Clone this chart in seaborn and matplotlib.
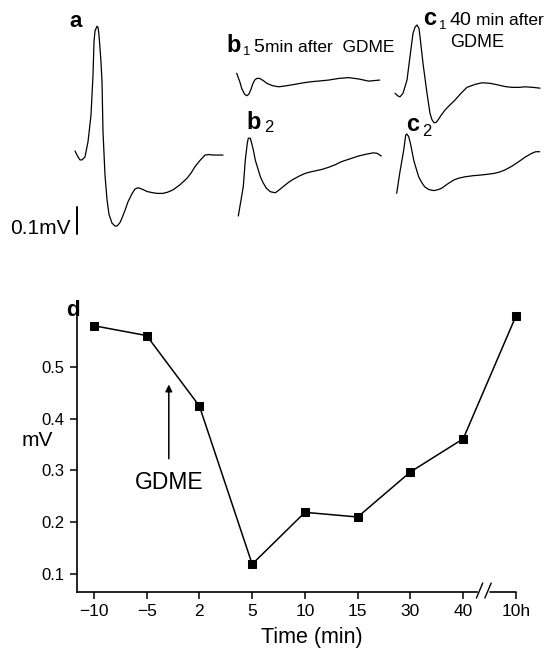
import matplotlib
matplotlib.use("Agg")
import matplotlib.pyplot as plt
import seaborn as sns
import numpy as np

# panel d data
time_labels = ["\u221210", "\u22125", "2", "5", "10", "15", "30", "40", "10h"]
amp_mv = [0.579, 0.560, 0.424, 0.119, 0.219, 0.210, 0.297, 0.361, 0.598]

# traces (t in arbitrary time units, v in mV relative to start)
trace_a_t = [0, 3, 5, 7, 10, 13, 16, 18, 19, 20, 22, 23, 24, 26, 27, 28, 30, 32, 34, 37, 40, 42, 45, 47, 50, 53,
             57, 60, 63, 67, 72, 77, 82, 88, 93, 98, 105, 112, 116, 120, 125, 130, 134, 138, 148]
trace_a_v = [0, -0.022, -0.033, -0.033, -0.022, 0.034, 0.133, 0.281, 0.404, 0.445, 0.462, 0.458, 0.430, 0.330,
             0.257, 0.071, -0.089, -0.180, -0.235, -0.267, -0.278, -0.278, -0.265, -0.248, -0.220, -0.188,
             -0.158, -0.141, -0.136, -0.141, -0.150, -0.154, -0.157, -0.157, -0.152, -0.144, -0.125, -0.101,
             -0.082, -0.058, -0.035, -0.015, -0.013, -0.015, -0.015]

trace_b1_t = [0, 3, 5, 8, 10, 12, 14, 16, 18, 20, 23, 27, 30, 36, 42, 50, 58, 67, 75, 84, 92, 102, 112, 122, 132, 143]
trace_b1_v = [0, -0.030, -0.056, -0.078, -0.083, -0.078, -0.062, -0.040, -0.025, -0.019, -0.019, -0.028, -0.037,
              -0.046, -0.050, -0.046, -0.041, -0.035, -0.031, -0.028, -0.025, -0.019, -0.016, -0.021, -0.029, -0.025]

trace_c1_t = [0, 3, 5, 8, 12, 15, 18, 20, 22, 24, 25, 28, 32, 35, 37, 39, 41, 43, 46, 50, 55, 60, 66, 72, 80, 87,
              95, 103, 110, 117, 124, 130, 138, 145]
trace_c1_v = [0, -0.010, -0.013, 0, 0.049, 0.136, 0.222, 0.245, 0.253, 0.240, 0.210, 0.111, 0, -0.074, -0.098,
              -0.109, -0.108, -0.099, -0.082, -0.062, -0.043, -0.025, 0, 0.022, 0.033, 0.039, 0.037, 0.031,
              0.025, 0.022, 0.022, 0.024, 0.022, 0.019]

trace_b2_t = [0, 5, 7, 9, 10, 12, 13, 15, 17, 20, 22, 25, 28, 32, 37, 41, 45, 50, 55, 61, 67, 72, 78, 84, 90, 97,
              103, 112, 120, 128, 135, 139, 143]
trace_b2_v = [0, 0.109, 0.207, 0.270, 0.288, 0.288, 0.275, 0.245, 0.207, 0.170, 0.146, 0.122, 0.103, 0.090,
              0.086, 0.097, 0.109, 0.124, 0.136, 0.148, 0.158, 0.163, 0.168, 0.173, 0.180, 0.190, 0.201, 0.212,
              0.222, 0.229, 0.234, 0.232, 0.222]

trace_c2_t = [0, 3, 7, 9, 10, 12, 14, 17, 20, 22, 25, 28, 32, 37, 41, 45, 51, 57, 62, 68, 76, 85, 92, 98, 103, 108,
              115, 122, 128, 135, 139, 143]
trace_c2_v = [0, 0.074, 0.160, 0.215, 0.220, 0.210, 0.180, 0.123, 0.085, 0.061, 0.040, 0.024, 0.014, 0.010,
              0.013, 0.019, 0.035, 0.049, 0.056, 0.061, 0.065, 0.068, 0.071, 0.074, 0.079, 0.086, 0.100, 0.117,
              0.133, 0.148, 0.154, 0.154]

sns.set_style("ticks")
plt.rcParams["font.family"] = ["Liberation Sans", "DejaVu Sans"]
plt.rcParams["text.color"] = "black"
plt.rcParams["xtick.color"] = "black"
plt.rcParams["ytick.color"] = "black"
plt.rcParams["axes.labelcolor"] = "black"

W, H = 548, 649
fig = plt.figure(figsize=(W / 100, H / 100), dpi=100)

def fx(x):
    return x / W

def fy(y):
    return 1 - y / H

# ---- top: traces ----
top_h = 250
PX_PER_MV = 270.0
axt = fig.add_axes([0, fy(top_h), 1, top_h / H])
axt.set_xlim(0, W)
axt.set_ylim(-top_h / PX_PER_MV, 0)
axt.axis("off")

traces = [
    (trace_a_t, trace_a_v, 75, 151),
    (trace_b1_t, trace_b1_v, 236.7, 73.3),
    (trace_c1_t, trace_c1_v, 395, 93.3),
    (trace_b2_t, trace_b2_v, 238.3, 216),
    (trace_c2_t, trace_c2_v, 396.7, 193.3),
]
for t, v, x0, y0 in traces:
    xs = np.array(t) + x0
    ys = np.array(v) - y0 / PX_PER_MV
    sns.lineplot(x=xs, y=ys, ax=axt, color="black", lw=0.9, sort=False, estimator=None)

# scale bar 0.1 mV
axt.plot([77, 77], [-234 / PX_PER_MV, -234 / PX_PER_MV + 0.1], color="black", lw=1.4)
fig.text(fx(10), fy(234), "0.1mV", fontsize=15, ha="left", va="baseline")

# panel letters
fig.text(fx(69), fy(27), "a", fontsize=16, fontweight="bold", va="baseline")
fig.text(fx(226), fy(52), "b", fontsize=17, fontweight="bold", va="baseline")
fig.text(fx(243), fy(55), "1", fontsize=9.5, va="baseline")
fig.text(fx(253), fy(52), "5", fontsize=14, va="baseline")
fig.text(fx(265), fy(52), "min after  GDME", fontsize=12.5, va="baseline")
fig.text(fx(423), fy(25), "c", fontsize=17, fontweight="bold", va="baseline")
fig.text(fx(439), fy(29), "1", fontsize=9.5, va="baseline")
fig.text(fx(449), fy(25), "40", fontsize=14, va="baseline")
fig.text(fx(476), fy(25), "min after", fontsize=12.5, va="baseline")
fig.text(fx(450), fy(47), "GDME", fontsize=13, va="baseline")
fig.text(fx(246), fy(129), "b", fontsize=17, fontweight="bold", va="baseline")
fig.text(fx(264), fy(132), "2", fontsize=12, va="baseline")
fig.text(fx(406), fy(131), "c", fontsize=17, fontweight="bold", va="baseline")
fig.text(fx(422), fy(136), "2", fontsize=12, va="baseline")

# ---- bottom: panel d ----
ax_l, ax_r, ax_t, ax_b = 77, 516, 305, 592
ax = fig.add_axes([fx(ax_l), fy(ax_b), (ax_r - ax_l) / W, (ax_b - ax_t) / H])
xpos = np.arange(len(time_labels))
sns.lineplot(x=xpos, y=amp_mv, ax=ax, color="black", lw=1.1, marker="s", markersize=6,
             markeredgecolor="black", markerfacecolor="black", clip_on=False)
ax.set_xlim(-0.32, 8.0)
ax.set_ylim(0.0653, 0.619)
ax.set_xticks(xpos)
ax.set_xticklabels(time_labels, fontsize=12.5)
ax.set_yticks([0.1, 0.2, 0.3, 0.4, 0.5])
ax.set_yticklabels(["0.1", "0.2", "0.3", "0.4", "0.5"], fontsize=12)
ax.tick_params(direction="out", length=5, width=1.1, color="black", pad=4)
for s in ["top", "right"]:
    ax.spines[s].set_visible(False)
for s in ["left", "bottom"]:
    ax.spines[s].set_linewidth(1.2)
    ax.spines[s].set_color("black")
ax.spines["bottom"].set_bounds(-0.32, 7.27)
ybot = 0.0653
ax.plot([7.5, 8.0], [ybot, ybot], color="black", lw=1.2, clip_on=False)
ax.plot([7.25, 7.37], [0.0537, 0.0826], color="black", lw=1.0, clip_on=False)
ax.plot([7.41, 7.53], [0.0537, 0.0826], color="black", lw=1.0, clip_on=False)
ax.set_xlabel("")
ax.set_ylabel("")

ax.annotate("", xy=(1.42, 0.471), xytext=(1.42, 0.317),
            arrowprops=dict(arrowstyle="-|>", color="black", lw=1.1, mutation_scale=10))
ax.text(1.42, 0.277, "GDME", fontsize=16.5, ha="center", va="center")

fig.text(fx(66), fy(316), "d", fontsize=16, fontweight="bold", va="baseline")
fig.text(fx(37), fy(440), "mV", fontsize=15, ha="center", va="center")
fig.text(fx(312), fy(637), "Time (min)", fontsize=15.5, ha="center", va="center")

fig.savefig("out.png", dpi=100)
